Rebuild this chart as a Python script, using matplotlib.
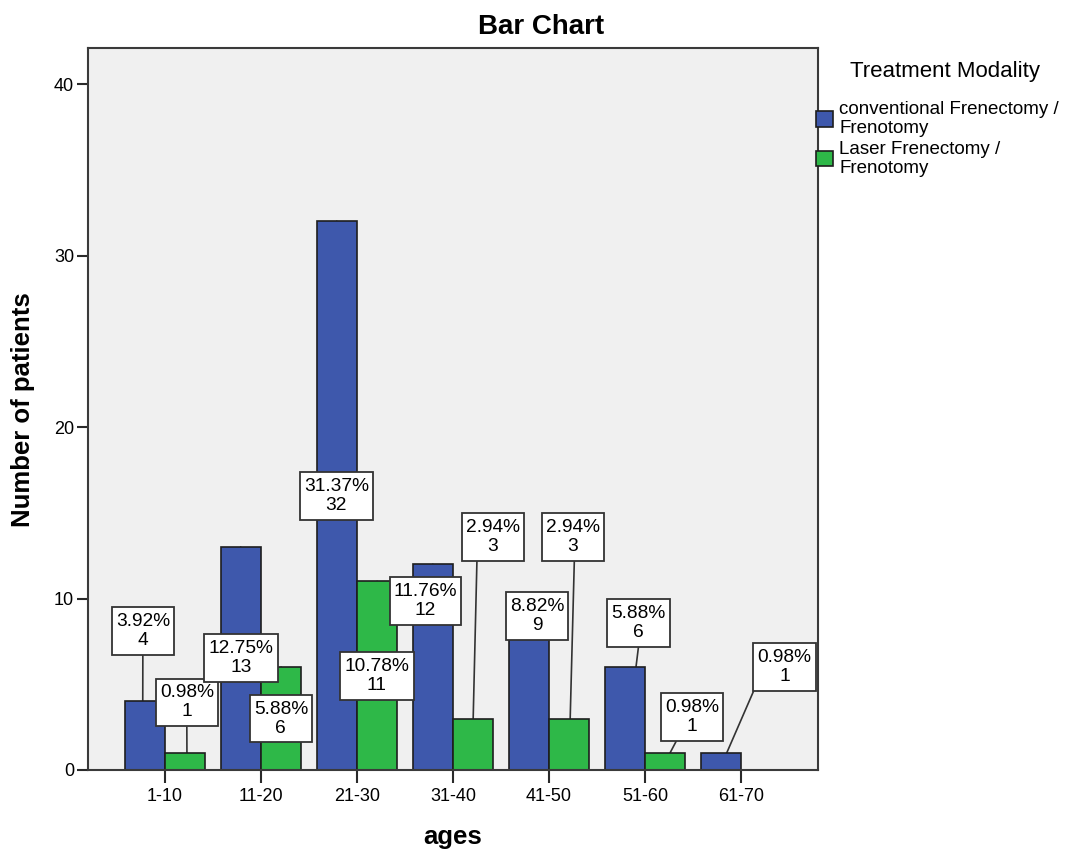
import numpy as np
import matplotlib
matplotlib.use('Agg')
import matplotlib.pyplot as plt
from matplotlib.patches import Patch
from matplotlib.path import Path

plt.rcParams['font.family'] = ['Liberation Sans', 'DejaVu Sans']

# dados
ages = ['1-10', '11-20', '21-30', '31-40', '41-50', '51-60', '61-70']
conventional = [4, 13, 32, 12, 9, 6, 1]
laser = [1, 6, 11, 3, 3, 1, 0]
series_names = ['conventional Frenectomy /\nFrenotomy', 'Laser Frenectomy /\nFrenotomy']

total = sum(conventional) + sum(laser)

# posicao das caixas de rotulo (centro, em coordenadas de dados) e ponto de saida da linha
conv_lab = [(-0.229, 8.10), (0.792, 6.53), (1.786, 15.98), (2.714, 9.85),
            (3.875, 8.98), (4.93, 8.57), (6.45, 6.0)]
conv_rel = [(0.5, 0), (0.5, 0), (0.5, 0), (0.5, 0), (0.5, 0), (0.5, 0), (0, 0)]
conv_dx = [-0.02, 0, 0, 0, 0, 0.115, 0.06]
laser_lab = [(0.229, 3.94), (1.208, 3.0), (2.208, 5.48), (3.417, 13.59),
             (4.25, 13.59), (5.49, 3.09), None]
laser_rel = [(0.5, 0), (0.5, 0), (0.5, 0), (0.24, 0), (0.52, 0), (0.24, 0), None]
laser_dx = [0.02, 0, 0, 0, 0.01, 0.05, 0]

blue = '#3e58ac'
green = '#2eb848'

fig = plt.figure(figsize=(10.70, 8.49), dpi=100)
ax = fig.add_axes([88/1070, 79/849, 730/1070, 722.5/849])
ax.set_facecolor('#f0f0f0')

x = np.arange(len(ages))
w = 0.42

ax.bar(x - w/2, conventional, w, color=blue, edgecolor='#1e1e1e', linewidth=1.2, zorder=2)
ax.bar(x + w/2, laser, w, color=green, edgecolor='#1e1e1e', linewidth=1.2, zorder=2)


def tall_box(x0, y0, width, height, mutation_size):
    # caixa retangular com mais folga na vertical (como no SPSS)
    px = 0.22 * mutation_size
    py = 0.30 * mutation_size
    x0 = x0 - px
    y0 = y0 - py
    x1 = x0 + width + 2 * px
    y1 = y0 + height + 2 * py
    return Path([(x0, y0), (x1, y0), (x1, y1), (x0, y1), (x0, y0)], closed=True)


bw = 0.646  # largura aprox. da caixa (dados)
bh = 2.86   # altura aprox. da caixa (dados)


def label(xc, val, pos, rel):
    txt = '%.2f%%\n%d' % (val / total * 100, val)
    # linha por tras das barras
    start = (pos[0] + (rel[0] - 0.5) * bw, pos[1] + (rel[1] - 0.5) * bh)
    ax.annotate('', xy=(xc, val), xytext=start, textcoords='data',
                arrowprops=dict(arrowstyle='-', color='#333333', lw=1.2,
                                shrinkA=0, shrinkB=0),
                zorder=1.5)
    ax.text(pos[0], pos[1], txt, ha='center', va='center', fontsize=13.8,
            linespacing=1.15, zorder=4,
            bbox=dict(boxstyle=tall_box, fc='white', ec='#333333', lw=1.3))


for i in range(len(ages)):
    label(x[i] - w/2 + conv_dx[i], conventional[i], conv_lab[i], conv_rel[i])
    if laser_lab[i] is not None:
        label(x[i] + w/2 + laser_dx[i], laser[i], laser_lab[i], laser_rel[i])

ax.set_xlim(-0.8, 6.8)
ax.set_ylim(0, 42.13)
ax.set_xticks(x)
ax.set_xticklabels(ages, fontsize=13)
ax.set_yticks([0, 10, 20, 30, 40])
ax.tick_params(axis='x', length=9, width=1.5, color='#2a2a2a', pad=4)
ax.tick_params(axis='y', length=8, width=1.5, color='#2a2a2a', pad=2, labelsize=13)

for s in ax.spines.values():
    s.set_linewidth(1.5)
    s.set_color('#3a3a3a')

fig.text(541/1070, 1 - 27/849, 'Bar Chart', ha='center', va='center',
         fontsize=20, fontweight='bold')
fig.text(23/1070, 1 - 410/849, 'Number of patients', ha='center', va='center',
         rotation=90, fontsize=18.5, fontweight='bold')
fig.text(453/1070, 1 - 844/849, 'ages', ha='center', va='baseline',
         fontsize=18.5, fontweight='bold')

fig.text(945/1070, 1 - 72/849, 'Treatment Modality', ha='center', va='center',
         fontsize=16)

handles = [Patch(facecolor=blue, edgecolor='#1e1e1e', lw=1.2),
           Patch(facecolor=green, edgecolor='#1e1e1e', lw=1.2)]
leg = fig.legend(handles, series_names, loc='upper left',
                 bbox_to_anchor=(816/1070, 1 - 101/849), frameon=False,
                 fontsize=13.5, handlelength=0.9, handleheight=0.9,
                 handletextpad=0.35, borderpad=0, borderaxespad=0,
                 labelspacing=0.2)
for t in leg.get_texts():
    t.set_linespacing(1.15)

fig.savefig('out.png', dpi=100)
